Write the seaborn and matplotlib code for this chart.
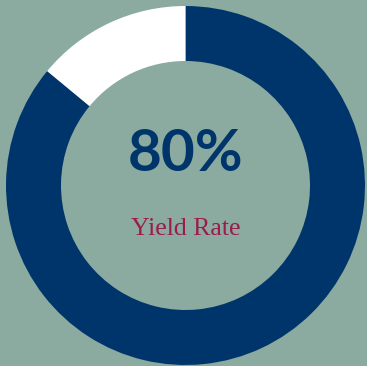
import matplotlib
matplotlib.use("Agg")
import matplotlib.pyplot as plt
import seaborn as sns

categories = ["Yield", "Remainder"]
values = [86, 14]
center_value = "80%"
center_label = "Yield Rate"

BG = "#8BABA0"
BLUE = "#00356B"
CRIMSON = "#9A1C4B"

sns.set_theme(style="white")
plt.rcParams["font.family"] = ["Lato", "DejaVu Sans"]

fig = plt.figure(figsize=(3.67, 3.66), dpi=100)
fig.patch.set_facecolor(BG)
ax = fig.add_axes([0, 0, 1, 1])
ax.set_facecolor(BG)

R = 179.5
cx, cy = 185.5, 185.5
ax.pie(values, colors=[BLUE, "white"], startangle=90, counterclock=False,
       radius=1.0, wedgeprops=dict(width=55 / R, linewidth=0))
ax.set_xlim(-cx / R, (367 - cx) / R)
ax.set_ylim(-(366 - cy) / R, cy / R)
ax.set_aspect("auto")
ax.axis("off")

ax.text(0, (cy - 171) / R, center_value, ha="center", va="baseline",
        fontsize=42, fontweight="bold", color=BLUE,
        family=["Lato", "DejaVu Sans"])
ax.text(0, (cy - 235) / R, center_label, ha="center", va="baseline",
        fontsize=18.5, color=CRIMSON, family=["Liberation Serif", "DejaVu Serif"])

fig.savefig("out.png", dpi=100, facecolor=BG)
